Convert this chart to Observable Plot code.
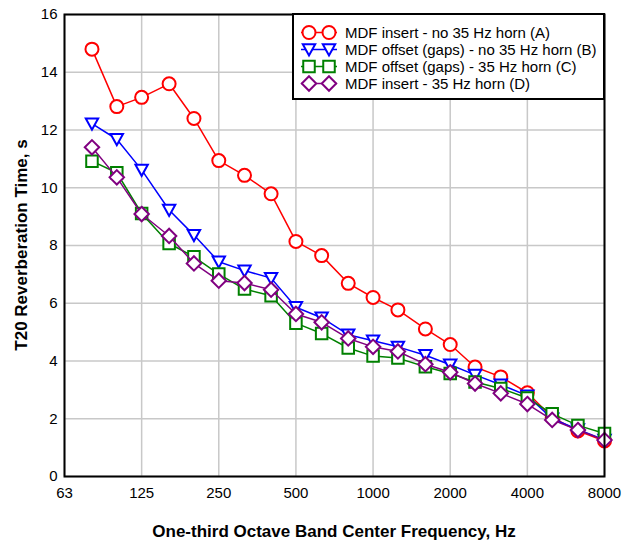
<!DOCTYPE html>
<html>
<head>
<meta charset="utf-8">
<script src="https://cdn.jsdelivr.net/npm/d3@7"></script>
<script src="https://cdn.jsdelivr.net/npm/@observablehq/plot@0.6"></script>
<style>
  html, body { margin: 0; padding: 0; background: white; }
  #chart svg { display: block; }
</style>
</head>
<body>
<div id="chart"></div>
<script>
// One-third octave band centre frequencies (Hz)
const freqs = [80,100,125,160,200,250,315,400,500,630,800,1000,1250,1600,2000,2500,3150,4000,5000,6300,8000];
// T20 reverberation times (s)
const seriesA = [14.80,12.81,13.13,13.60,12.40,10.94,10.43,9.79,8.14,7.65,6.69,6.20,5.77,5.11,4.57,3.79,3.45,2.90,2.05,1.58,1.23];
const seriesB = [12.22,11.68,10.62,9.23,8.36,7.44,7.13,6.87,5.86,5.50,4.91,4.70,4.49,4.20,3.87,3.52,3.18,2.80,2.00,1.63,1.27];
const seriesC = [10.92,10.52,9.11,8.07,7.61,7.01,6.49,6.26,5.31,4.95,4.45,4.17,4.10,3.80,3.57,3.27,3.05,2.72,2.17,1.77,1.49];
const seriesD = [11.40,10.36,9.09,8.33,7.38,6.78,6.70,6.47,5.63,5.34,4.78,4.49,4.33,3.89,3.61,3.22,2.88,2.51,1.96,1.61,1.26];
const seriesNames = [
  "MDF insert - no 35 Hz horn (A)",
  "MDF offset (gaps) - no 35 Hz horn (B)",
  "MDF offset (gaps) - 35 Hz horn (C)",
  "MDF insert - 35 Hz horn (D)"
];
const xTicks = [62.5,125,250,500,1000,2000,4000,8000];
const xTickLabels = ["63","125","250","500","1000","2000","4000","8000"];
const yTicks = [0,2,4,6,8,10,12,14,16];
const xTitle = "One-third Octave Band Center Frequency, Hz";
const yTitle = "T20 Reverberation Time, s";

// inverted triangle symbol
const triangleDown = {
  draw(context, size) {
    const r = Math.sqrt(size / Math.PI);
    const k = r / 6.5;
    context.moveTo(-6.2 * k, -5.2 * k);
    context.lineTo(6.2 * k, -5.2 * k);
    context.lineTo(0, 6 * k);
    context.closePath();
  }
};

const styles = [
  {color: "#ff0000", symbol: "circle", d3sym: d3.symbolCircle},
  {color: "#0000ff", symbol: triangleDown, d3sym: triangleDown},
  {color: "#008000", symbol: "square", d3sym: d3.symbolSquare},
  {color: "#800080", symbol: "diamond2", d3sym: d3.symbolDiamond2}
];
const allSeries = [seriesA, seriesB, seriesC, seriesD];
const tables = allSeries.map((vals, i) => freqs.map((f, j) => ({freq: f, value: vals[j], series: seriesNames[i]})));
const xTickTable = xTicks.map((v, i) => ({v, label: xTickLabels[i]}));

const W = 628, H = 544, mL = 64, mR = 24, mT = 14, mB = 68;
const R = 6.5;

const marks = [
  Plot.gridX({ticks: xTicks, stroke: "#c8c8c8", strokeOpacity: 1, strokeWidth: 1.5}),
  Plot.gridY({ticks: yTicks, stroke: "#c8c8c8", strokeOpacity: 1, strokeWidth: 1.5}),
  Plot.text(xTickTable, {x: "v", text: "label", frameAnchor: "bottom", dy: 17, fontSize: 15, fill: "black", textAnchor: "middle", lineAnchor: "middle"}),
  Plot.axisY({ticks: yTicks, tickSize: 0, tickPadding: 7, label: null, fontSize: 15}),
];
tables.forEach((t, i) => {
  marks.push(Plot.line(t, {x: "freq", y: "value", stroke: styles[i].color, strokeWidth: 1.5}));
  marks.push(Plot.dot(t, {x: "freq", y: "value", r: R, symbol: styles[i].symbol, stroke: styles[i].color, fill: "white", strokeWidth: 2}));
});
marks.push(Plot.frame({stroke: "black", strokeWidth: 2}));

const chart = Plot.plot({
  width: W, height: H,
  marginLeft: mL, marginRight: mR, marginTop: mT, marginBottom: mB,
  style: {fontFamily: "'Liberation Sans', Arial, sans-serif", fontSize: "15px", color: "black", background: "white"},
  x: {type: "log", domain: [62.5, 8000], axis: null},
  y: {domain: [0, 16]},
  marks
});
document.getElementById("chart").appendChild(chart);

const svg = d3.select(chart);
// axis titles
svg.append("text")
  .attr("x", (mL + W - mR) / 2).attr("y", 531)
  .attr("text-anchor", "middle").attr("dominant-baseline", "central")
  .attr("font-weight", "bold").attr("font-size", 17).attr("fill", "black")
  .text(xTitle);
svg.append("text")
  .attr("transform", `translate(21,${(mT + H - mB) / 2}) rotate(-90)`)
  .attr("text-anchor", "middle").attr("dominant-baseline", "central")
  .attr("font-weight", "bold").attr("font-size", 17).attr("fill", "black")
  .text(yTitle);

// legend
const lgW = 311, lgH = 85;
const lgX = W - mR - lgW, lgY = mT;
const lg = svg.append("g").attr("font-size", 15).attr("fill", "black").attr("text-anchor", "start");
lg.append("rect").attr("x", lgX).attr("y", lgY).attr("width", lgW).attr("height", lgH)
  .attr("fill", "white").attr("stroke", "black").attr("stroke-width", 2);
seriesNames.forEach((name, i) => {
  const cy = lgY + 18.5 + i * 17;
  const g = lg.append("g");
  g.append("line").attr("x1", lgX + 8).attr("x2", lgX + 44).attr("y1", cy).attr("y2", cy)
    .attr("stroke", styles[i].color).attr("stroke-width", 1.5);
  [lgX + 16, lgX + 36].forEach(mx => {
    g.append("path").attr("transform", `translate(${mx},${cy})`)
      .attr("d", d3.symbol(styles[i].d3sym, Math.PI * R * R)())
      .attr("fill", "white").attr("stroke", styles[i].color).attr("stroke-width", 2);
  });
  g.append("text").attr("x", lgX + 52).attr("y", cy).attr("dominant-baseline", "central")
    .attr("text-anchor", "start").attr("fill", "black").text(name);
});
</script>
</body>
</html>
